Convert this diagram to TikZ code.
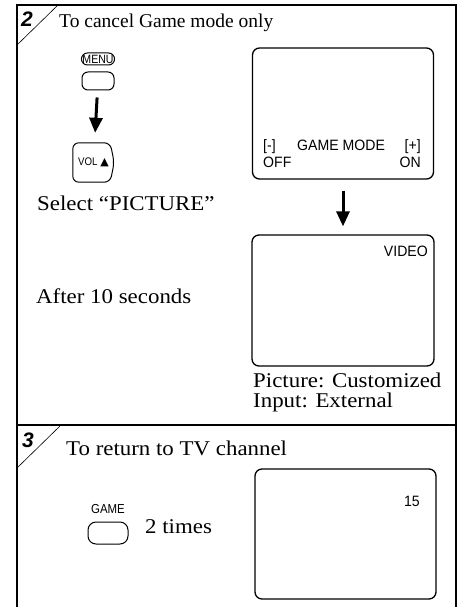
\documentclass[tikz,border=0pt]{standalone}
\usepackage{fontspec}
\setmainfont{Liberation Serif}
\setsansfont{Liberation Sans}
\newfontfamily\widerm[FakeStretch=1.09]{Liberation Serif}
\newfontfamily\condsans[FakeStretch=0.88]{Liberation Sans}
\newfontfamily\osdsans[FakeStretch=0.94]{Liberation Sans}
\newfontfamily\symfont{DejaVu Sans}
\usetikzlibrary{arrows.meta}

\begin{document}
\begin{tikzpicture}[x=1pt,y=-1pt,
	screen/.style={draw, line width=1.3pt, rounded corners=7pt, minimum width=181pt, minimum height=131pt},
	serif/.style={font=\widerm\fontsize{21}{24}\selectfont, anchor=base west, inner sep=0pt},
	osd/.style={font=\osdsans\fontsize{15}{17}\selectfont, inner sep=0pt},
	keylbl/.style={font=\condsans\fontsize{11}{12}\selectfont, inner sep=0pt},
	stepnum/.style={font=\sffamily\bfseries\itshape\fontsize{21}{24}\selectfont, anchor=base west, inner sep=0pt},
	button/.style={draw, line width=1pt, rounded corners=6pt},
	bigarrow/.style={-{Triangle[width=13pt,length=15pt]}, line width=3pt}]

	\useasboundingbox (0,0) rectangle (464,607);

	% frame
	\draw[line width=2pt] (16.5,607) -- (16.5,5) -- (456,5) -- (456,607);
	\draw[line width=2pt] (16.5,425) -- (456,425);

	% corner cuts
	\draw[line width=0.6pt] (17,45) -- (58,5);
	\draw[line width=0.6pt] (17,468) -- (60,426);

	% step 2
	\node[stepnum] (numtwo) at (21,27) {2};
	\node[serif, font=\rmfamily\fontsize{19.5}{22}\selectfont] (titletwo) at (59,28) {To cancel Game mode only};

	% remote buttons
	\node[button, keylbl, font=\condsans\fontsize{12}{13}\selectfont, rounded corners=6pt, inner sep=1pt, minimum height=12pt] (menulbl) at (98,59) {MENU};
	\node[button, minimum width=32pt, minimum height=18pt] (menubtn) at (98,81) {};
	\node[keylbl, minimum width=41pt, minimum height=39pt] (volbtn) at (93.5,162.5) {VOL {\symfont\fontsize{11}{12}\selectfont ▲}};
	\draw[button] (volbtn.north west) -- ([xshift=-4pt]volbtn.north east) -- (volbtn.east)
		-- ([xshift=-4pt]volbtn.south east) -- (volbtn.south west) -- cycle;
	\draw[bigarrow, shorten <=7pt, shorten >=10pt] (menubtn) -- (volbtn);

	\node[serif] (select) at (37,210) {Select “PICTURE”};
	\node[serif] (after) at (36,303) {After 10 seconds};

	% screens
	\node[screen] (screenA) at (343,113.5) {};
	\node[osd, anchor=base west] (minus) at (263,150) {[-]};
	\node[osd, anchor=base west] (gamemode) at (297,150) {GAME MODE};
	\node[osd, anchor=base east] (plus) at (421,150) {[+]};
	\node[osd, anchor=base west] (off) at (263,167) {OFF};
	\node[osd, anchor=base east] (on) at (421,167) {ON};

	\node[screen, minimum width=182pt] (screenB) at (343,300.5) {};
	\node[osd, anchor=base east] (video) at (428,256) {VIDEO};
	\draw[bigarrow, shorten <=11pt, shorten >=8pt] (screenA) -- (screenB);

	\node[serif] (picture) at (253,387) {Picture: Customized};
	\node[serif] (input) at (253,407) {Input: External};

	% step 3
	\node[stepnum] (numthree) at (22,447) {3};
	\node[serif] (titlethree) at (66,455) {To return to TV channel};

	\node[keylbl, font=\condsans\fontsize{13}{14}\selectfont, anchor=base] (gamelbl) at (108,513) {GAME};
	\node[button, rounded corners=8pt, minimum width=40pt, minimum height=22pt] (gamebtn) at (108,533) {};
	\node[serif] (times) at (145,533) {2 times};

	\node[screen, minimum height=130pt] (screenC) at (345.5,534) {};
	\node[osd, anchor=base east] (chan) at (420,506) {15};

\end{tikzpicture}
\end{document}
